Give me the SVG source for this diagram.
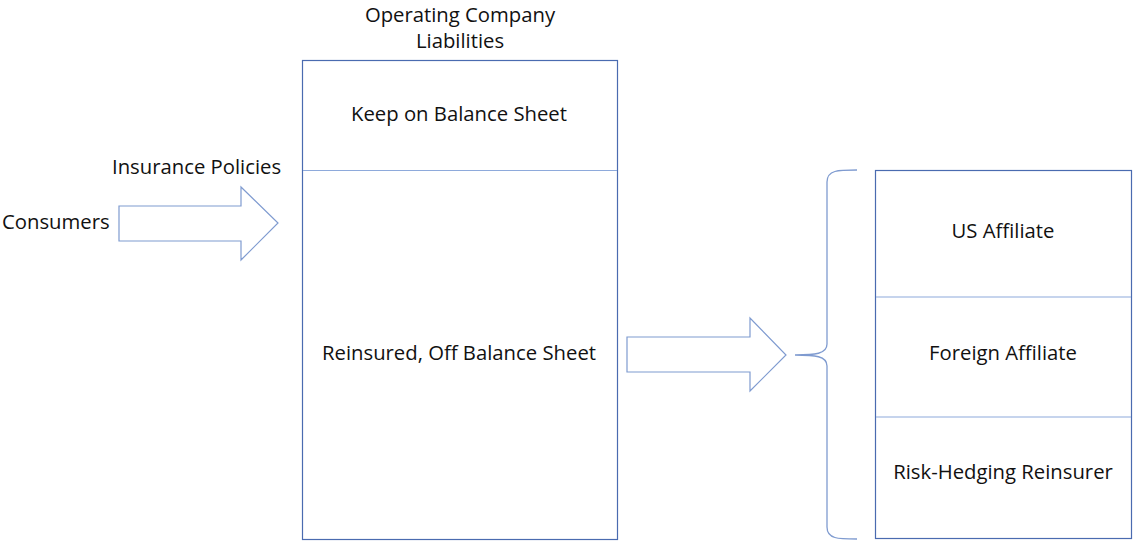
<svg xmlns="http://www.w3.org/2000/svg" width="1133" height="543" viewBox="0 0 1133 543">
<style>
text{font-family:"Open Sans","Liberation Sans",sans-serif;font-size:20.3px;fill:#111}
.c{text-anchor:middle}
.box{fill:#fff;stroke:#4a6bb0;stroke-width:1.2}
.div{stroke:#8eaadb;stroke-width:1.2}
.arr{fill:#fff;stroke:#7f9bd0;stroke-width:1.2}
.brace{fill:none;stroke:#7f9bd0;stroke-width:1.3}
</style>
<rect width="1133" height="543" fill="#fff"/>
<g id="liabilities">
<text class="c" x="460" y="22">Operating Company</text>
<text class="c" x="460" y="48">Liabilities</text>
<rect class="box" x="302.5" y="60.5" width="315" height="479"/>
<line class="div" x1="303" y1="170.5" x2="617" y2="170.5"/>
<text class="c" x="459" y="121">Keep on Balance Sheet</text>
<text class="c" x="459" y="360">Reinsured, Off Balance Sheet</text>
</g>
<g id="consumers">
<text x="2" y="229">Consumers</text>
</g>
<g id="reinsurers">
<rect class="box" x="875.5" y="170.5" width="256" height="368"/>
<line class="div" x1="876" y1="297" x2="1131" y2="297"/>
<line class="div" x1="876" y1="417" x2="1131" y2="417"/>
<text class="c" x="1003" y="238">US Affiliate</text>
<text class="c" x="1003" y="360">Foreign Affiliate</text>
<text class="c" x="1003" y="479">Risk-Hedging Reinsurer</text>
</g>
<g id="connectors">
<polygon class="arr" points="119,206 241,206 241,187 278,223 241,260 241,241 119,241"/>
<text x="112" y="174">Insurance Policies</text>
<polygon class="arr" points="627,337 750,337 750,318 786,355 750,391 750,372 627,372"/>
<path class="brace" d="M857,170 C838,170 827,170 827,182 L827,344 C827,354 815,355 795,355 C815,355 827,356 827,366 L827,527 C827,539 838,539 857,539"/>
</g>
</svg>
